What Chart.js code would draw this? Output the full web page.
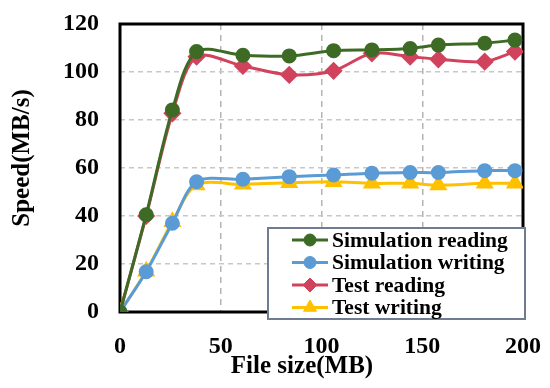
<!DOCTYPE html>
<html>
<head>
<meta charset="utf-8">
<script src="https://cdn.jsdelivr.net/npm/chart.js@4/dist/chart.umd.min.js"></script>
<style>
  body { margin: 0; background: #fff; }
  #wrap { width: 550px; height: 388px; }
</style>
</head>
<body>
<div id="wrap"><canvas id="line_chart" width="550" height="388"></canvas></div>
<script>
// file sizes (MB)
var fileSize = [0, 13, 26, 38, 61, 84, 106, 125, 144, 158, 181, 196];
var simReading  = [0, 40.5, 84.2, 108.5, 107, 106.7, 108.9, 109.2, 109.8, 111.2, 112, 113.3];
var simWriting  = [0, 16.8, 37, 54.3, 55.3, 56.4, 57.1, 57.8, 58.1, 58.1, 58.9, 58.9];
var testReading = [0, 40, 82.8, 106.4, 102.5, 98.8, 100.5, 107.8, 106.4, 105.3, 104.3, 108.5];
var testWriting = [0, 17, 37.6, 52.9, 53.2, 53.9, 54.3, 53.6, 53.6, 52.9, 53.6, 53.6];
var xTicks = [0, 50, 100, 150, 200];
var yTicks = [0, 20, 40, 60, 80, 100, 120];
var xTitle = 'File size(MB)';
var yTitle = 'Speed(MB/s)';

var serif = "'Liberation Serif', 'Times New Roman', serif";

function toPoints(arr) {
    return arr.map(function (v, i) { return { x: fileSize[i], y: v }; });
}

function makeSet(label, arr, color, style, radius) {
    return {
        label: label,
        data: toPoints(arr),
        borderColor: color,
        backgroundColor: color,
        pointBackgroundColor: color,
        pointBorderColor: color,
        pointStyle: style,
        pointRadius: radius,
        pointHoverRadius: radius,
        borderWidth: 3,
        tension: 0.3
    };
}

var datasets = [
    makeSet('Simulation reading', simReading, '#3d6b25', 'circle', 6),
    makeSet('Simulation writing', simWriting, '#5b9bd5', 'circle', 6),
    makeSet('Test reading', testReading, '#d1425d', 'rectRot', 7),
    makeSet('Test writing', testWriting, '#ffc000', 'triangle', 7.5)
];

// frame around plot area, under the lines
var framePlugin = {
    id: 'frame',
    beforeDatasetsDraw: function (chart) {
        var a = chart.chartArea, c = chart.ctx;
        c.save();
        c.strokeStyle = '#000';
        c.lineWidth = 3;
        c.strokeRect(a.left, a.top, a.right - a.left, a.bottom - a.top);
        c.restore();
    }
};

// axis titles (placed like the original, a bit off-center)
var titlePlugin = {
    id: 'axisTitles',
    afterDraw: function (chart) {
        var c = chart.ctx;
        c.save();
        c.fillStyle = '#000';
        c.font = 'bold 25px ' + serif;
        c.textAlign = 'center';
        c.textBaseline = 'middle';
        c.fillText(xTitle, 302, 367);
        c.translate(23, 158);
        c.rotate(-Math.PI / 2);
        c.fillText(yTitle, 0, 0);
        c.restore();
    }
};

// boxed legend sitting in the lower right
var legendPlugin = {
    id: 'boxLegend',
    afterDraw: function (chart) {
        var c = chart.ctx;
        var bx = 268, by = 228, bw = 257, bh = 91;
        c.save();
        c.fillStyle = '#fff';
        c.fillRect(bx, by, bw, bh);
        c.strokeStyle = '#6f7c92';
        c.lineWidth = 2;
        c.strokeRect(bx, by, bw, bh);
        c.font = 'bold 21.5px ' + serif;
        c.textBaseline = 'middle';
        chart.data.datasets.forEach(function (ds, i) {
            var y = 240 + i * 22.5;
            c.strokeStyle = ds.borderColor;
            c.lineWidth = 3;
            c.beginPath();
            c.moveTo(292, y);
            c.lineTo(328, y);
            c.stroke();
            c.fillStyle = ds.borderColor;
            c.lineWidth = 1;
            Chart.helpers.drawPoint(c, { pointStyle: ds.pointStyle, radius: ds.pointRadius, borderWidth: 1 }, 310, y);
            c.fillStyle = '#000';
            c.fillText(ds.label, 332, y + 1);
        });
        c.restore();
    }
};

var ctx = document.getElementById('line_chart').getContext('2d');
new Chart(ctx, {
    type: 'line',
    data: { datasets: datasets },
    options: {
        responsive: false,
        animation: false,
        layout: { padding: { left: 0, right: 27, top: 24, bottom: 0 } },
        plugins: { legend: { display: false }, tooltip: { enabled: false } },
        scales: {
            x: {
                type: 'linear',
                min: 0, max: 200,
                afterBuildTicks: function (s) { s.ticks = xTicks.map(function (v) { return { value: v }; }); },
                afterFit: function (s) { s.height = 76; s.paddingLeft = 0; s.paddingRight = 0; },
                grid: {
                    color: function (c) { return (c.tick.value === 0 || c.tick.value === 200) ? 'rgba(0,0,0,0)' : '#b4b4b4'; },
                    lineWidth: 1.5,
                    drawTicks: false
                },
                border: { display: false, dash: [6, 5] },
                ticks: { color: '#000', font: { family: serif, size: 24, weight: 'bold' }, padding: 20, maxRotation: 0 }
            },
            y: {
                min: 0, max: 120,
                afterBuildTicks: function (s) { s.ticks = yTicks.map(function (v) { return { value: v }; }); },
                afterFit: function (s) { s.width = 120; s.paddingTop = 0; s.paddingBottom = 0; },
                grid: {
                    color: function (c) { return (c.tick.value === 0 || c.tick.value === 120) ? 'rgba(0,0,0,0)' : '#c8c8c8'; },
                    lineWidth: 1.5,
                    drawTicks: false
                },
                border: { display: false, dash: [5, 4] },
                ticks: { color: '#000', font: { family: serif, size: 24, weight: 'bold' }, padding: 21 }
            }
        }
    },
    plugins: [framePlugin, titlePlugin, legendPlugin]
});
</script>
</body>
</html>
